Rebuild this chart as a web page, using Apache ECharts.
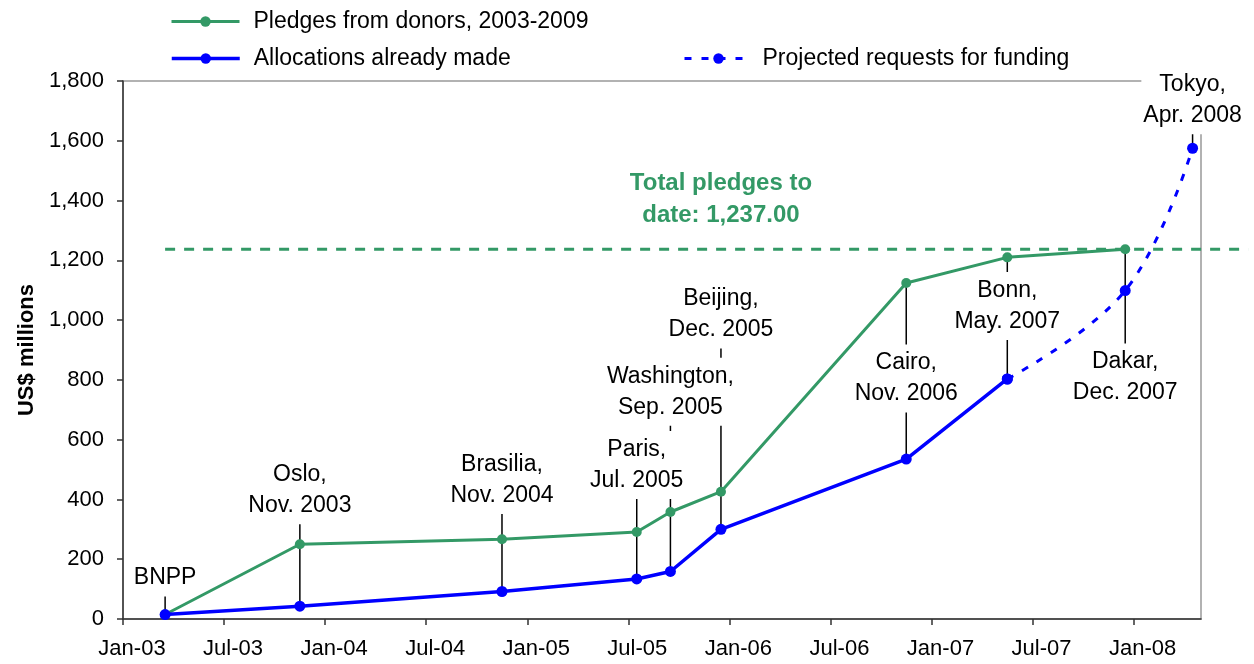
<!DOCTYPE html>
<html>
<head>
<meta charset="utf-8">
<script src="https://cdn.jsdelivr.net/npm/echarts@6/dist/echarts.min.js"></script>
<style>
  html, body { margin: 0; padding: 0; background: #fff; }
  #chart { width: 1254px; height: 664px; }
</style>
</head>
<body>
<div id="chart"></div>
<script>
  // pledging conferences, one entry each
  const eventNames = ['BNPP', 'Oslo,\nNov. 2003', 'Brasilia,\nNov. 2004', 'Paris,\nJul. 2005',
    'Washington,\nSep. 2005', 'Beijing,\nDec. 2005', 'Cairo,\nNov. 2006', 'Bonn,\nMay. 2007',
    'Dakar,\nDec. 2007', 'Tokyo,\nApr. 2008'];
  const eventMonths = ['2003-03', '2003-11', '2004-11', '2005-07', '2005-09', '2005-12',
    '2006-11', '2007-05', '2007-12', '2008-04'];
  // US$ millions
  const pledges = [15, 250, 267, 291, 358, 426, 1124, 1210, 1237, null];
  const allocations = [15, 43, 92, 134, 159, 300, 535, 803, null, null];
  const projected = [null, null, null, null, null, null, null, 803, 1099, 1575];
  const totalPledges = 1237;
  const tickLabels = ['Jan-03', 'Jul-03', 'Jan-04', 'Jul-04', 'Jan-05', 'Jul-05',
    'Jan-06', 'Jul-06', 'Jan-07', 'Jul-07', 'Jan-08'];

  // where the event labels sit (in US$ millions, on the event's date)
  const labelLevels = [137, 431, 465, 515, 760, 1019, 805, 1047, 808, 1736];

  const GREEN = '#339966';
  const BLUE = '#0000ff';
  const FONT = '"Liberation Sans", Arial, sans-serif';

  // months since Jan 2003, points sit mid-month
  function toMonth(s) {
    const p = s.split('-');
    return (+p[0] - 2003) * 12 + (+p[1] - 1) + 0.5;
  }
  const xs = eventMonths.map(toMonth);
  const pair = arr => xs.map((x, i) => [x, arr[i]]);

  const stems = xs.map((x, i) => {
    const vals = [pledges[i], allocations[i], projected[i], labelLevels[i]].filter(v => v != null);
    return [x, Math.min.apply(null, vals), Math.max.apply(null, vals)];
  });

  function legendOf(name, left, top, width, gap) {
    return {
      data: [name], left: left, top: top,
      itemWidth: 68, itemHeight: 13, selectedMode: false,
      lineStyle: { width: width },
      textStyle: { fontSize: 23, color: '#000', fontFamily: FONT, padding: [0, 0, 0, gap] }
    };
  }

  let chart = echarts.init(document.getElementById('chart'));
  let option = {
    animation: false,
    textStyle: { fontFamily: FONT },
    legend: [
      legendOf('Pledges from donors, 2003-2009', 165, 5, 3, 9),
      legendOf('Allocations already made', 165, 42, 3.5, 9),
      legendOf('Projected requests for funding', 678, 42, 3, 5)
    ],
    grid: {
      left: 123, right: 53, top: 81, bottom: 45,
      show: true, borderColor: '#999', borderWidth: 1.5
    },
    xAxis: {
      type: 'value', min: 0, max: 64, interval: 6,
      axisLine: { show: true, lineStyle: { color: '#333', width: 1.5 } },
      axisTick: { show: true, length: 6, lineStyle: { color: '#333', width: 1.5 } },
      axisLabel: {
        fontSize: 22, color: '#000', margin: 19, padding: [0, 0, 0, 18],
        showMaxLabel: false,
        formatter: v => (v % 6 === 0 ? tickLabels[v / 6] : '')
      },
      splitLine: { show: false }
    },
    yAxis: {
      type: 'value', min: 0, max: 1800, interval: 200,
      name: 'US$ millions', nameLocation: 'middle', nameGap: 85,
      nameTextStyle: { fontSize: 22, fontWeight: 'bold', color: '#000' },
      axisLine: { show: true, lineStyle: { color: '#333', width: 1.5 } },
      axisTick: { show: true, length: 6, lineStyle: { color: '#333', width: 1.5 } },
      axisLabel: { fontSize: 22, color: '#000', margin: 19, formatter: v => v.toLocaleString('en-US') },
      splitLine: { show: false }
    },
    series: [
      {
        // dashed "total pledges" rule, runs a little past the plot edge like the original
        type: 'custom', z: 1, silent: true, clip: false,
        renderItem: function (params, api) {
          let a = api.coord([api.value(0), api.value(2)]);
          let b = api.coord([api.value(1), api.value(2)]);
          return {
            type: 'line',
            shape: { x1: a[0], y1: a[1], x2: b[0], y2: b[1] },
            style: { stroke: GREEN, lineWidth: 3, lineDash: [10, 9] }
          };
        },
        encode: { x: [0, 1], y: 2 },
        data: [[xs[0], 66.8, totalPledges]],
        markPoint: {
          symbolSize: 0, silent: true,
          label: {
            show: true, formatter: 'Total pledges to\ndate: 1,237.00',
            fontSize: 24, fontWeight: 'bold', color: GREEN, lineHeight: 32, fontFamily: FONT
          },
          data: [{ coord: [35.5, 1404] }]
        }
      },
      {
        type: 'custom', z: 2, silent: true,
        renderItem: function (params, api) {
          let a = api.coord([api.value(0), api.value(1)]);
          let b = api.coord([api.value(0), api.value(2)]);
          return {
            type: 'line',
            shape: { x1: a[0], y1: a[1], x2: b[0], y2: b[1] },
            style: { stroke: '#000', lineWidth: 1.5 }
          };
        },
        encode: { x: 0, y: [1, 2] },
        data: stems
      },
      {
        type: 'scatter', z: 3, silent: true,
        symbolSize: 1, itemStyle: { color: 'rgba(0,0,0,0)', opacity: 1 },
        label: {
          show: true, position: 'inside', formatter: p => p.name, opacity: 1,
          fontSize: 23, lineHeight: 31, color: '#000', backgroundColor: '#fff', padding: [3, 2]
        },
        emphasis: { disabled: true },
        data: xs.map((x, i) => ({ name: eventNames[i], value: [x, labelLevels[i]] }))
      },
      {
        name: 'Pledges from donors, 2003-2009', type: 'line', z: 5,
        symbol: 'circle', symbolSize: 10,
        itemStyle: { color: GREEN },
        lineStyle: { color: GREEN, width: 3 },
        data: pair(pledges)
      },
      {
        name: 'Projected requests for funding', type: 'line', z: 5,
        symbol: 'circle', symbolSize: 11, smooth: 0.4,
        itemStyle: { color: BLUE },
        lineStyle: { color: BLUE, width: 3, type: [7, 10] },
        data: pair(projected)
      },
      {
        name: 'Allocations already made', type: 'line', z: 6,
        symbol: 'circle', symbolSize: 11,
        itemStyle: { color: BLUE },
        lineStyle: { color: BLUE, width: 3.5 },
        data: pair(allocations)
      }
    ]
  };
  chart.setOption(option);
</script>
</body>
</html>
